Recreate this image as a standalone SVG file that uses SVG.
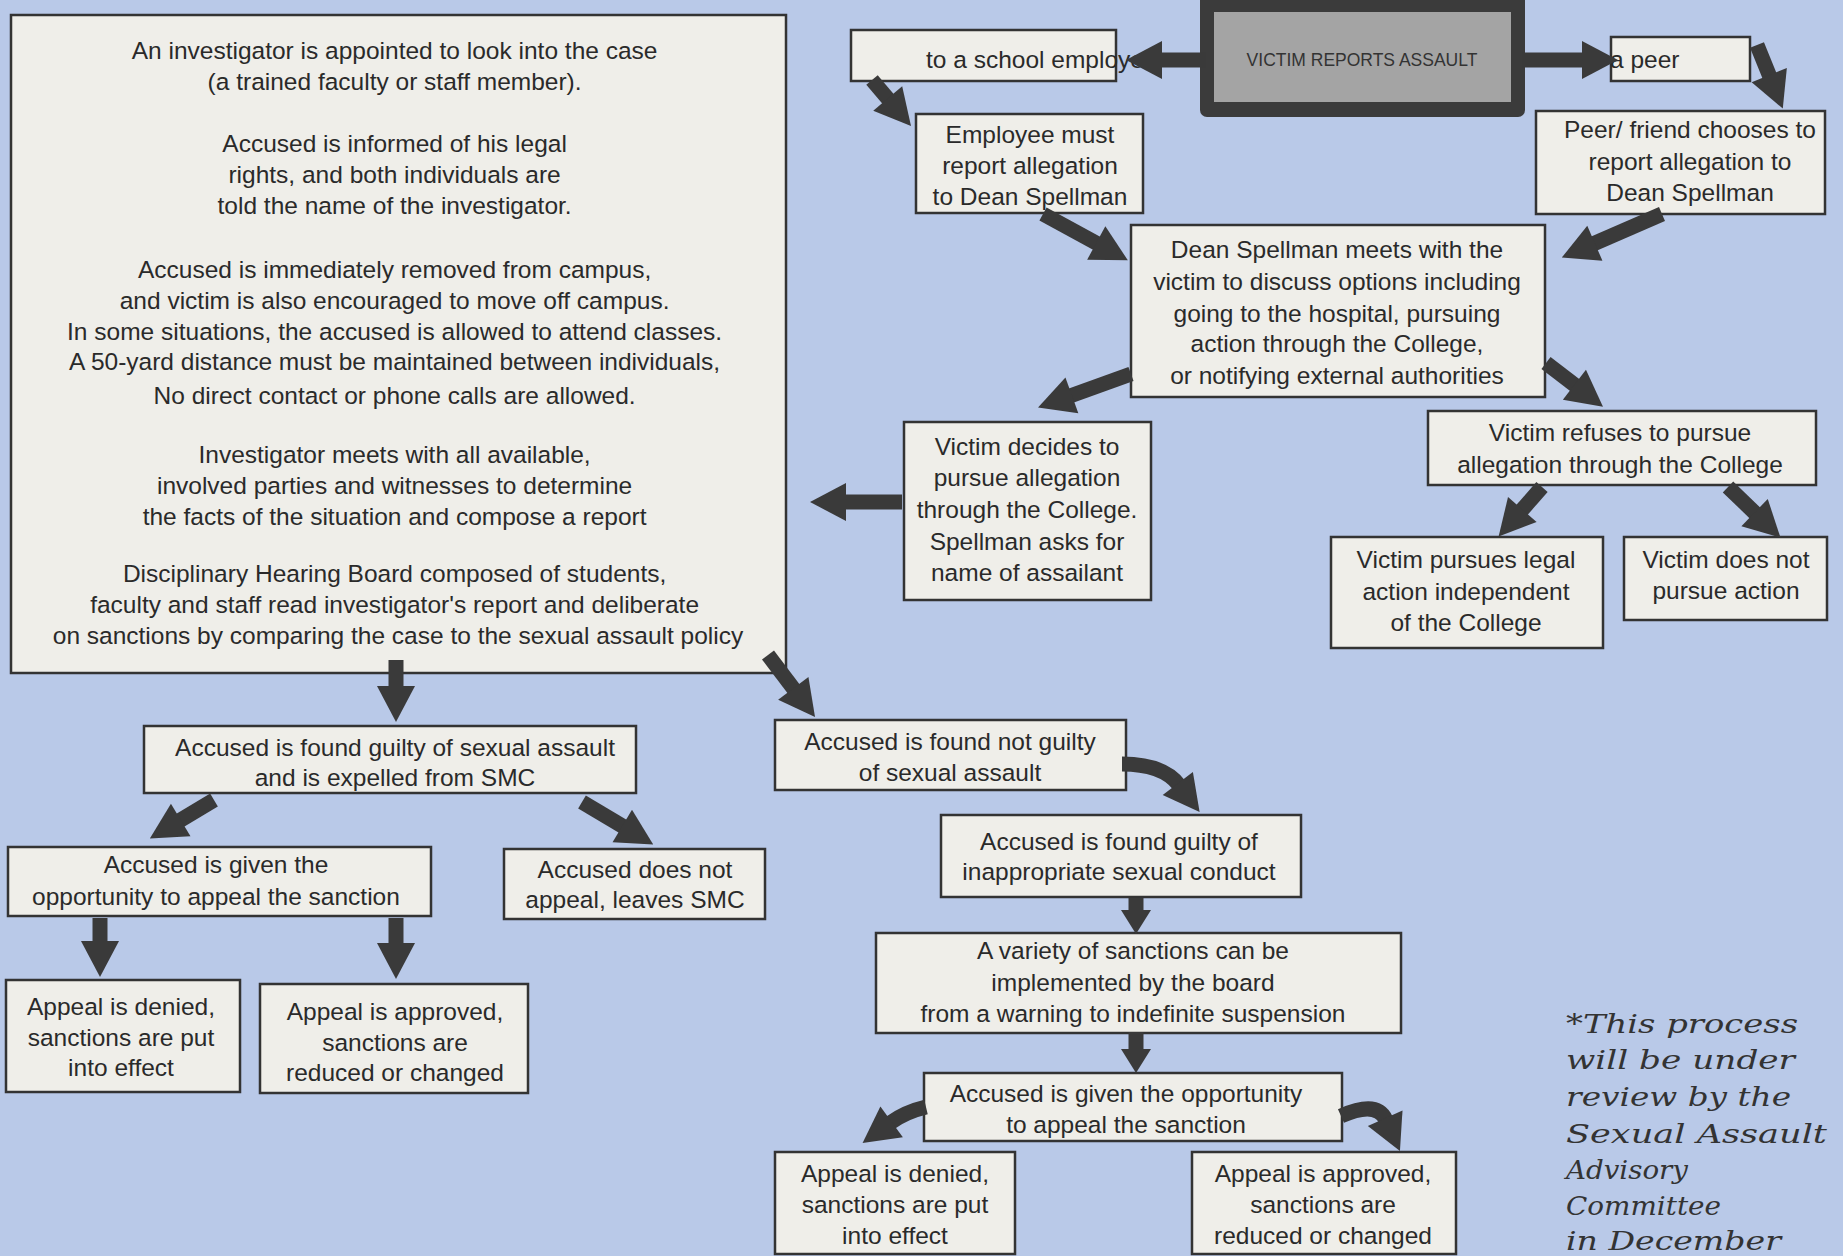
<svg xmlns="http://www.w3.org/2000/svg" width="1843" height="1256" viewBox="0 0 1843 1256">
<defs>
<style>
.box{fill:#efeee9;stroke:#333;stroke-width:2.5}
.t{font-family:"Liberation Sans",Arial,sans-serif;font-size:24.5px;fill:#2a2a2a;text-anchor:middle}
.ts{text-anchor:start}
.c{fill:none;stroke:#3a3a3a;stroke-width:15;marker-end:url(#ah)}
.cs{fill:none;stroke:#3a3a3a;stroke-width:15;marker-end:url(#ahs)}
.note{font-family:"DejaVu Serif","Liberation Serif",serif;font-style:italic;font-size:26px;fill:#333}
</style>
<marker id="ah" markerUnits="userSpaceOnUse" orient="auto" markerWidth="44" markerHeight="44" viewBox="-2 -22 44 44" refX="2" refY="0"><path d="M0,-19 L36,0 L0,19 Z" fill="#3a3a3a"/></marker>
<marker id="ahs" markerUnits="userSpaceOnUse" orient="auto" markerWidth="30" markerHeight="34" viewBox="-2 -17 30 34" refX="2" refY="0"><path d="M0,-15 L24,0 L0,15 Z" fill="#3a3a3a"/></marker>
</defs>
<rect x="0" y="0" width="1843" height="1256" fill="#b9c9e8"/>

<g id="investigation">
<rect class="box" x="11" y="15" width="775" height="658"/>
<text class="t">
<tspan x="398" y="59">An investigator is appointed to look into the case</tspan>
<tspan x="398" y="90">(a trained faculty or staff member).</tspan>
<tspan x="398" y="152">Accused is informed of his legal</tspan>
<tspan x="398" y="183">rights, and both individuals are</tspan>
<tspan x="398" y="214">told the name of the investigator.</tspan>
<tspan x="398" y="278">Accused is immediately removed from campus,</tspan>
<tspan x="398" y="309">and victim is also encouraged to move off campus.</tspan>
<tspan x="398" y="340">In some situations, the accused is allowed to attend classes.</tspan>
<tspan x="398" y="370">A 50-yard distance must be maintained between individuals,</tspan>
<tspan x="398" y="404">No direct contact or phone calls are allowed.</tspan>
<tspan x="398" y="463">Investigator meets with all available,</tspan>
<tspan x="398" y="494">involved parties and witnesses to determine</tspan>
<tspan x="398" y="525">the facts of the situation and compose a report</tspan>
<tspan x="398" y="582">Disciplinary Hearing Board composed of students,</tspan>
<tspan x="398" y="613">faculty and staff read investigator's report and deliberate</tspan>
<tspan x="398" y="644">on sanctions by comparing the case to the sexual assault policy</tspan>
</text>
</g>

<g id="victim-reports">
<rect x="1200" y="-6" width="325" height="123" rx="7" fill="#3b3b3b"/>
<rect x="1214" y="12" width="297" height="90" fill="#a4a4a4"/>
<text x="1362" y="66" style="font-family:'Liberation Sans',Arial,sans-serif;font-size:17.5px;fill:#333;text-anchor:middle">VICTIM REPORTS ASSAULT</text>
</g>

<g id="school-employee">
<rect class="box" x="851" y="30" width="265" height="51"/>
<text class="t ts" x="926" y="68">to a school employee</text>
</g>

<g id="peer">
<rect class="box" x="1611" y="37" width="139" height="44"/>
<text class="t ts" x="1610" y="68">a peer</text>
</g>

<g id="employee-must">
<rect class="box" x="916" y="114" width="227" height="99"/>
<text class="t"><tspan x="1030" y="143">Employee must</tspan><tspan x="1030" y="174">report allegation</tspan><tspan x="1030" y="205">to Dean Spellman</tspan></text>
</g>

<g id="peer-friend">
<rect class="box" x="1536" y="111" width="289" height="103"/>
<text class="t"><tspan x="1690" y="138">Peer/ friend chooses to</tspan><tspan x="1690" y="170">report allegation to</tspan><tspan x="1690" y="201">Dean Spellman</tspan></text>
</g>

<g id="dean-meets">
<rect class="box" x="1131" y="225" width="414" height="172"/>
<text class="t"><tspan x="1337" y="258">Dean Spellman meets with the</tspan><tspan x="1337" y="290">victim to discuss options including</tspan><tspan x="1337" y="322">going to the hospital, pursuing</tspan><tspan x="1337" y="352">action through the College,</tspan><tspan x="1337" y="384">or notifying external authorities</tspan></text>
</g>

<g id="victim-decides">
<rect class="box" x="904" y="422" width="247" height="178"/>
<text class="t"><tspan x="1027" y="455">Victim decides to</tspan><tspan x="1027" y="486">pursue allegation</tspan><tspan x="1027" y="518">through the College.</tspan><tspan x="1027" y="550">Spellman asks for</tspan><tspan x="1027" y="581">name of assailant</tspan></text>
</g>

<g id="victim-refuses">
<rect class="box" x="1428" y="411" width="388" height="74"/>
<text class="t"><tspan x="1620" y="441">Victim refuses to pursue</tspan><tspan x="1620" y="473">allegation through the College</tspan></text>
</g>

<g id="legal-action">
<rect class="box" x="1331" y="537" width="272" height="111"/>
<text class="t"><tspan x="1466" y="568">Victim pursues legal</tspan><tspan x="1466" y="600">action independent</tspan><tspan x="1466" y="631">of the College</tspan></text>
</g>

<g id="no-action">
<rect class="box" x="1624" y="537" width="203" height="83"/>
<text class="t"><tspan x="1726" y="568">Victim does not</tspan><tspan x="1726" y="599">pursue action</tspan></text>
</g>

<g id="guilty-expelled">
<rect class="box" x="144" y="726" width="492" height="67"/>
<text class="t"><tspan x="395" y="756">Accused is found guilty of sexual assault</tspan><tspan x="395" y="786">and is expelled from SMC</tspan></text>
</g>

<g id="appeal-left">
<rect class="box" x="8" y="847" width="423" height="69"/>
<text class="t"><tspan x="216" y="873">Accused is given the</tspan><tspan x="216" y="905">opportunity to appeal the sanction</tspan></text>
</g>

<g id="no-appeal">
<rect class="box" x="504" y="849" width="261" height="70"/>
<text class="t"><tspan x="635" y="878">Accused does not</tspan><tspan x="635" y="908">appeal, leaves SMC</tspan></text>
</g>

<g id="denied-left">
<rect class="box" x="6" y="980" width="234" height="112"/>
<text class="t"><tspan x="121" y="1015">Appeal is denied,</tspan><tspan x="121" y="1046">sanctions are put</tspan><tspan x="121" y="1076">into effect</tspan></text>
</g>

<g id="approved-left">
<rect class="box" x="260" y="984" width="268" height="109"/>
<text class="t"><tspan x="395" y="1020">Appeal is approved,</tspan><tspan x="395" y="1051">sanctions are</tspan><tspan x="395" y="1081">reduced or changed</tspan></text>
</g>

<g id="not-guilty">
<rect class="box" x="775" y="720" width="351" height="70"/>
<text class="t"><tspan x="950" y="750">Accused is found not guilty</tspan><tspan x="950" y="781">of sexual assault</tspan></text>
</g>

<g id="inappropriate">
<rect class="box" x="941" y="815" width="360" height="82"/>
<text class="t"><tspan x="1119" y="850">Accused is found guilty of</tspan><tspan x="1119" y="880">inappropriate sexual conduct</tspan></text>
</g>

<g id="sanctions">
<rect class="box" x="876" y="933" width="525" height="100"/>
<text class="t"><tspan x="1133" y="959">A variety of sanctions can be</tspan><tspan x="1133" y="991">implemented by the board</tspan><tspan x="1133" y="1022">from a warning to indefinite suspension</tspan></text>
</g>

<g id="appeal-right">
<rect class="box" x="924" y="1073" width="418" height="68"/>
<text class="t"><tspan x="1126" y="1102">Accused is given the opportunity</tspan><tspan x="1126" y="1133">to appeal the sanction</tspan></text>
</g>

<g id="denied-right">
<rect class="box" x="775" y="1152" width="240" height="102"/>
<text class="t"><tspan x="895" y="1182">Appeal is denied,</tspan><tspan x="895" y="1213">sanctions are put</tspan><tspan x="895" y="1244">into effect</tspan></text>
</g>

<g id="approved-right">
<rect class="box" x="1192" y="1152" width="264" height="102"/>
<text class="t"><tspan x="1323" y="1182">Appeal is approved,</tspan><tspan x="1323" y="1213">sanctions are</tspan><tspan x="1323" y="1244">reduced or changed</tspan></text>
</g>

<g id="note">
<text class="note" x="1566" y="1033" textLength="232" lengthAdjust="spacingAndGlyphs">*This process</text>
<text class="note" x="1566" y="1069" textLength="229" lengthAdjust="spacingAndGlyphs">will be under</text>
<text class="note" x="1566" y="1106" textLength="225" lengthAdjust="spacingAndGlyphs">review by the</text>
<text class="note" x="1566" y="1143" textLength="261" lengthAdjust="spacingAndGlyphs">Sexual Assault</text>
<text class="note" x="1566" y="1179" textLength="122" lengthAdjust="spacingAndGlyphs">Advisory</text>
<text class="note" x="1566" y="1215" textLength="155" lengthAdjust="spacingAndGlyphs">Committee</text>
<text class="note" x="1566" y="1250" textLength="215" lengthAdjust="spacingAndGlyphs">in December</text>
</g>

<g id="connectors">
<path class="c" d="M1206,60 L1160,60"/>
<path class="c" d="M1522,60 L1584,60"/>
<path class="c" d="M872,80 L889,100"/>
<path class="c" d="M1757,45 L1770,77"/>
<path class="c" d="M1043,214 L1098,244"/>
<path class="c" d="M1662,214 L1593,244"/>
<path class="c" d="M1131,374 L1070,396"/>
<path class="c" d="M1546,363 L1576,386"/>
<path class="c" d="M902,502 L844,502"/>
<path class="c" d="M768,655 L794.5,690"/>
<path class="c" d="M396,660 L396,688"/>
<path class="c" d="M214,800 L179,821"/>
<path class="c" d="M582,802 L624,827"/>
<path class="c" d="M100,918 L100,943"/>
<path class="c" d="M396,918 L396,945"/>
<path class="c" d="M1122,764 Q1163,764 1179,785"/>
<path class="cs" d="M1136,898 L1136,912"/>
<path class="cs" d="M1136,1032 L1136,1051"/>
<path class="c" d="M926,1107 Q905,1112 890,1123"/>
<path class="c" d="M1341,1116 Q1377,1100 1386,1120"/>
<path class="c" d="M1542,487 L1521,511"/>
<path class="c" d="M1728,487 L1756,514"/>
</g>
</svg>
